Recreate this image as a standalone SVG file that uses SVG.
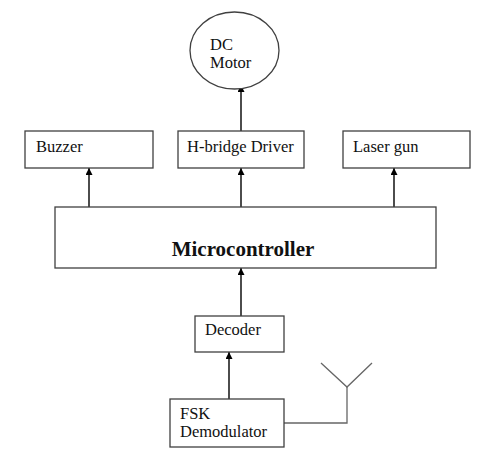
<svg xmlns="http://www.w3.org/2000/svg" width="487" height="469" viewBox="0 0 487 469">
<defs>
<style>
.box{fill:#fff;stroke:#404040;stroke-width:1.3}
.t{font-family:"Liberation Serif","Times New Roman",serif;font-size:16.5px;fill:#111}
.b{font-family:"Liberation Serif","Times New Roman",serif;font-size:21px;font-weight:bold;fill:#111}
.c{stroke:#000;stroke-width:1.4;fill:none}
.ant{stroke:#666;stroke-width:1.3;fill:none}
</style>
<marker id="ah" viewBox="0 0 10 10" refX="10" refY="5" markerWidth="7" markerHeight="7" markerUnits="userSpaceOnUse" orient="auto">
<path d="M0,0 L10,5 L0,10 z" fill="#000"/>
</marker>
</defs>
<rect width="487" height="469" fill="#fff"/>
<g id="connectors">
<line class="c" x1="241" y1="131" x2="241" y2="85" marker-end="url(#ah)"/>
<line class="c" x1="89" y1="207" x2="89" y2="168" marker-end="url(#ah)"/>
<line class="c" x1="241" y1="207" x2="241" y2="168" marker-end="url(#ah)"/>
<line class="c" x1="394" y1="207" x2="394" y2="168" marker-end="url(#ah)"/>
<line class="c" x1="241" y1="316" x2="241" y2="268" marker-end="url(#ah)"/>
<line class="c" x1="229" y1="399" x2="229" y2="352" marker-end="url(#ah)"/>
<polyline class="ant" points="284,423 347,423 347,387"/>
<polyline class="ant" points="321,363 347,387 372,363"/>
</g>
<g id="dc-motor">
<ellipse cx="234.5" cy="50.5" rx="44.5" ry="38.5" fill="#fff" stroke="#404040" stroke-width="1.3"/>
<text class="t" x="210" y="50">DC</text>
<text class="t" x="210" y="68">Motor</text>
</g>
<g id="buzzer">
<rect class="box" x="25" y="131" width="128" height="37"/>
<text class="t" x="36" y="152">Buzzer</text>
</g>
<g id="hbridge">
<rect class="box" x="178" y="131" width="126" height="37"/>
<text class="t" x="187" y="152">H-bridge Driver</text>
</g>
<g id="laser">
<rect class="box" x="343" y="131" width="127" height="37"/>
<text class="t" x="353" y="152">Laser gun</text>
</g>
<g id="microcontroller">
<rect class="box" x="55" y="207" width="381" height="61"/>
<text class="b" x="243" y="256" text-anchor="middle">Microcontroller</text>
</g>
<g id="decoder">
<rect class="box" x="195" y="316" width="89" height="36"/>
<text class="t" x="205" y="335">Decoder</text>
</g>
<g id="fsk">
<rect class="box" x="170" y="399" width="114" height="48"/>
<text class="t" x="180" y="419">FSK</text>
<text class="t" x="180" y="437">Demodulator</text>
</g>
</svg>
